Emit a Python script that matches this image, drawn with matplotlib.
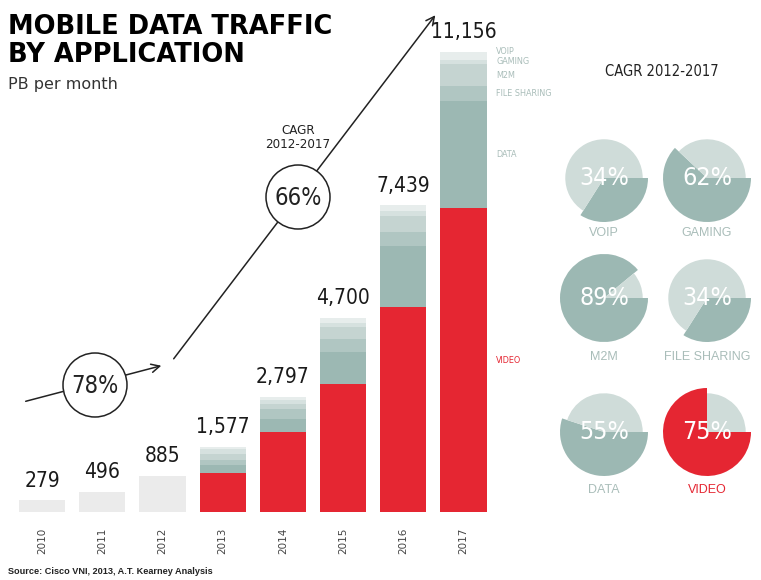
import matplotlib.pyplot as plt
from matplotlib.patches import Circle
import numpy as np

years = ['2010', '2011', '2012', '2013', '2014', '2015', '2016', '2017']
totals = [279, 496, 885, 1577, 2797, 4700, 7439, 11156]
total_labels = ['279', '496', '885', '1,577', '2,797', '4,700', '7,439', '11,156']

# stacked split for 2013-2017 (PB per month), bottom to top
apps = ['VIDEO', 'DATA', 'FILE SHARING', 'M2M', 'GAMING', 'VOIP']
video = [0, 0, 0, 935, 1947, 3094, 4960, 7372]
data = [0, 0, 0, 193, 317, 780, 1500, 2587]
file_sharing = [0, 0, 0, 143, 237, 324, 330, 364]
m2m = [0, 0, 0, 128, 111, 281, 390, 541]
gaming = [0, 0, 0, 121, 111, 110, 110, 105]
voip = [0, 0, 0, 57, 74, 111, 149, 187]

cagr_apps = ['VOIP', 'GAMING', 'M2M', 'FILE SHARING', 'DATA', 'VIDEO']
cagr_pct = [34, 62, 89, 34, 55, 75]

RED = '#e52632'
TEAL = '#9cb8b3'
LIGHT = '#cfdcd9'
LABEL_GRAY = '#a9bdb9'
seg_colors = [RED, TEAL, '#b0c6c2', '#c5d4d1', '#d6e1df', '#e7edec']
NARROW = dict(family=['DejaVu Sans'], fontstretch='condensed')

W, H = 761, 580
fig = plt.figure(figsize=(W / 100, H / 100), dpi=100)


def px_axes(left, top, width, height, **kw):
    return fig.add_axes([left / W, 1 - (top + height) / H, width / W, height / H], **kw)


# bars
ax = px_axes(12, 12, 481.6, 500)
x = np.arange(len(years))
bw = 0.77
old = [t if i < 3 else 0 for i, t in enumerate(totals)]
ax.bar(x, old, width=bw, color='#ebebeb')
bottom = np.zeros(len(years))
series = [video, data, file_sharing, m2m, gaming, voip]
for vals, c in zip(series, seg_colors):
    ax.bar(x, vals, width=bw, bottom=bottom, color=c)
    bottom += np.array(vals)
ymax = 500 * 11156 / 460
ax.set_xlim(-0.5, len(years) - 0.5)
ax.set_ylim(0, ymax)
ax.axis('off')

for i, (t, lab) in enumerate(zip(totals, total_labels)):
    ax.annotate(lab, (i, t), xytext=(0, 7), textcoords='offset points',
                ha='center', va='bottom', fontsize=15, color='#1a1a1a', **NARROW)
    ax.annotate(years[i], (i, 0), xytext=(0, -21), textcoords='offset points',
                ha='center', va='center', rotation=90, fontsize=7.5,
                color='#444444')

# labels next to 2017 stack, spread so they don't collide
gap = 10.5 * ymax / 500
b = 0
prev = -1e9
for vals, name in zip(series, apps):
    v = vals[-1]
    ly = max(b + v / 2, prev + gap)
    prev = ly
    ax.annotate(name, (7 + bw / 2, ly), xytext=(7, 0),
                textcoords='offset points', ha='left', va='center',
                fontsize=6.5, color=RED if name == 'VIDEO' else LABEL_GRAY,
                annotation_clip=False, **NARROW)
    b += v

# overlay for arrows and titles
ov = px_axes(0, 0, W, H, zorder=5)
ov.set_xlim(0, W)
ov.set_ylim(H, 0)
ov.axis('off')
ov.patch.set_alpha(0)

arrow = dict(arrowstyle='->,head_length=0.6,head_width=0.3', color='#222222', lw=1.1)
ov.annotate('', xy=(164, 365), xytext=(23, 402), arrowprops=arrow)
ov.annotate('', xy=(437, 13), xytext=(172, 361), arrowprops=arrow)
ov.add_patch(Circle((95, 385), 32, facecolor='white', edgecolor='#222222', lw=1.1, zorder=3))
ov.add_patch(Circle((298, 197), 32, facecolor='white', edgecolor='#222222', lw=1.1, zorder=3))
ov.text(95, 386, '78%', ha='center', va='center', fontsize=17, color='#222222',
        zorder=4, **NARROW)
ov.text(298, 198, '66%', ha='center', va='center', fontsize=17, color='#222222',
        zorder=4, **NARROW)
ov.text(298, 137, 'CAGR\n2012-2017', ha='center', va='center', fontsize=9.5,
        color='#222222', linespacing=1.1, **NARROW)

ov.text(8, 41, 'MOBILE DATA TRAFFIC\nBY APPLICATION', ha='left', va='center',
        fontsize=18.5, fontweight='bold', color='black', linespacing=1.12)
ov.text(8, 85, 'PB per month', ha='left', va='center', fontsize=11.5, color='#333333')
ov.text(8, 572, 'Source: Cisco VNI, 2013, A.T. Kearney Analysis', ha='left',
        va='center', fontsize=6.6, fontweight='bold', color='#222222',
        family=['Liberation Sans', 'DejaVu Sans'])

ov.text(662, 71, 'CAGR 2012-2017', ha='center', va='center', fontsize=10.5,
        color='#222222', **NARROW)

# CAGR pies
centers = [(604, 178), (707, 178), (604, 298), (707, 298), (604, 432), (707, 432)]
label_y = [233, 233, 357, 357, 490, 490]
for (cx, cy), ly, name, p in zip(centers, label_y, cagr_apps, cagr_pct):
    pa = px_axes(cx - 55, cy - 55, 110, 110, zorder=6)
    hi = RED if name == 'VIDEO' else TEAL
    pa.pie([p, 100 - p], colors=[hi, 'none'], startangle=0, counterclock=False,
           radius=1.0)
    pa.pie([p, 100 - p], colors=['none', LIGHT], startangle=0, counterclock=False,
           radius=0.88)
    pa.text(0, 0, f'{p}%', ha='center', va='center', fontsize=18, color='white',
            fontweight='light', **NARROW)
    ov.text(cx, ly, name, ha='center', va='center', fontsize=9,
            color=RED if name == 'VIDEO' else LABEL_GRAY,
            family=['Liberation Sans', 'DejaVu Sans'])

fig.savefig('out.png', dpi=100)
